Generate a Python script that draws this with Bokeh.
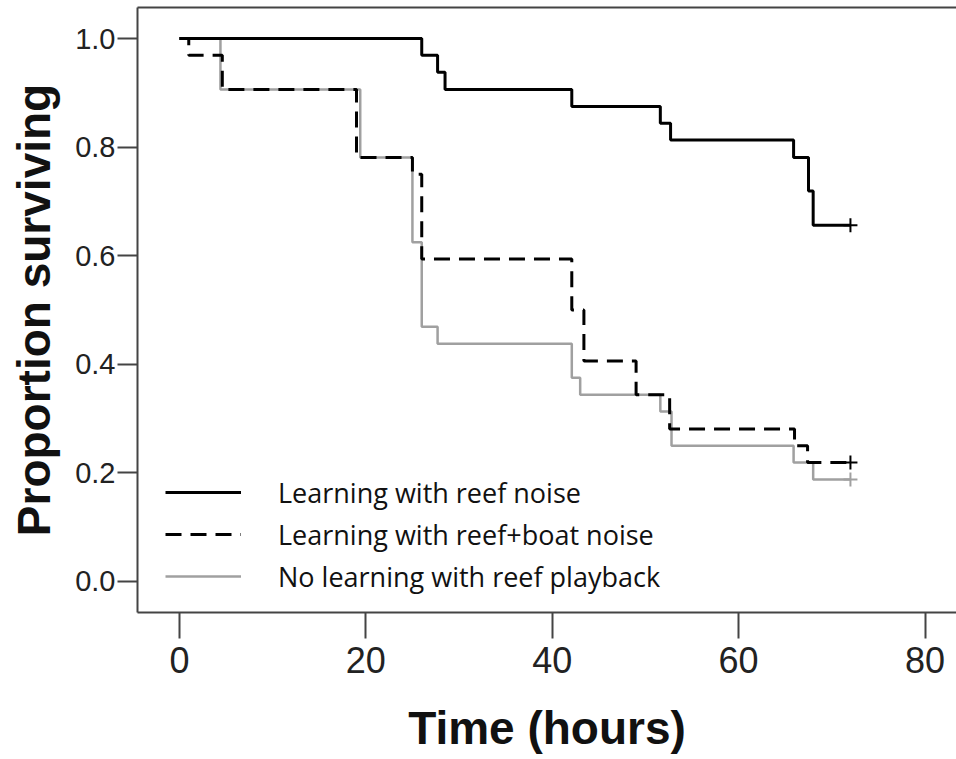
from bokeh.plotting import figure
from bokeh.models import Range1d, FixedTicker, PrintfTickFormatter, Legend, LegendItem, LinearAxis
from bokeh.embed import file_html
from bokeh.resources import INLINE

# ---- data (Kaplan-Meier curves) ----
labels = ["Learning with reef noise", "Learning with reef+boat noise", "No learning with reef playback"]

times_reef = [0, 26.0, 27.7, 28.5, 42.1, 51.6, 52.7, 65.9, 67.5, 68.0, 72]
surv_reef = [1.0, 0.969, 0.938, 0.906, 0.875, 0.844, 0.813, 0.781, 0.719, 0.656, 0.656]

times_boat = [0, 1.0, 4.6, 19.0, 25.0, 26.0, 42.1, 43.4, 49.0, 52.6, 66.0, 67.4, 72]
surv_boat = [1.0, 0.969, 0.906, 0.781, 0.750, 0.594, 0.500, 0.406, 0.344, 0.281, 0.250, 0.219, 0.219]

times_none = [0, 4.4, 19.4, 25.0, 26.0, 27.7, 42.1, 43.0, 51.6, 52.8, 65.9, 68.0, 72]
surv_none = [1.0, 0.906, 0.781, 0.625, 0.469, 0.438, 0.375, 0.344, 0.313, 0.250, 0.219, 0.188, 0.188]

x_ticks = [0, 20, 40, 60, 80]
y_ticks = [0.0, 0.2, 0.4, 0.6, 0.8, 1.0]

# ---- figure ----
FRAME_COLOR = "#444444"
p = figure(width=956, height=759, output_backend="svg", toolbar_location=None,
           x_range=Range1d(-4.5, 83.38), y_range=Range1d(-0.0571, 1.0571),
           min_border_left=137, min_border_right=0, min_border_top=7, min_border_bottom=147,
           x_axis_location=None, y_axis_location=None)
p.outline_line_color = None
p.grid.visible = False
p.background_fill_color = "white"
p.border_fill_color = "white"

# left axis
yaxis = LinearAxis(ticker=FixedTicker(ticks=y_ticks), formatter=PrintfTickFormatter(format="%.1f"),
                   axis_label="Proportion surviving")
yaxis.axis_line_color = FRAME_COLOR
yaxis.axis_line_width = 2
yaxis.major_tick_line_color = FRAME_COLOR
yaxis.major_tick_line_width = 2
yaxis.major_tick_out = 20
yaxis.major_tick_in = 0
yaxis.minor_tick_line_color = None
yaxis.major_label_standoff = 2
yaxis.major_label_text_font = "Liberation Sans"
yaxis.major_label_text_font_size = "29px"
yaxis.major_label_text_color = "#222222"
yaxis.axis_label_text_font = "Liberation Sans"
yaxis.axis_label_text_font_size = "46px"
yaxis.axis_label_text_font_style = "bold"
yaxis.axis_label_text_color = "#111111"
yaxis.axis_label_standoff = 12
p.add_layout(yaxis, "left")

# bottom axis
xaxis = LinearAxis(ticker=FixedTicker(ticks=x_ticks), formatter=PrintfTickFormatter(format="%d"),
                   axis_label="Time (hours)")
xaxis.axis_line_color = FRAME_COLOR
xaxis.axis_line_width = 2
xaxis.major_tick_line_color = FRAME_COLOR
xaxis.major_tick_line_width = 2
xaxis.major_tick_out = 26
xaxis.major_tick_in = 0
xaxis.minor_tick_line_color = None
xaxis.major_label_standoff = 8
xaxis.major_label_text_font = "Liberation Sans"
xaxis.major_label_text_font_size = "36px"
xaxis.major_label_text_color = "#222222"
xaxis.axis_label_text_font = "Liberation Sans"
xaxis.axis_label_text_font_size = "46px"
xaxis.axis_label_text_font_style = "bold"
xaxis.axis_label_text_color = "#111111"
xaxis.axis_label_standoff = 26
p.add_layout(xaxis, "below")

# top frame line
top = LinearAxis(ticker=FixedTicker(ticks=[]))
top.axis_line_color = FRAME_COLOR
top.axis_line_width = 2
top.major_tick_line_color = None
top.minor_tick_line_color = None
top.major_tick_out = 0
top.major_label_standoff = 0
top.major_label_text_font_size = "0px"
p.add_layout(top, "above")

# ---- curves ----
r_none = p.step(times_none, surv_none, mode="after", line_color="#a0a0a0", line_width=2.5)
r_boat = p.step(times_boat, surv_boat, mode="after", line_color="black", line_width=3, line_dash="16 9")
r_reef = p.step(times_reef, surv_reef, mode="after", line_color="black", line_width=3)

# censor marks at end of follow-up
p.scatter([times_none[-1]], [surv_none[-1]], marker="cross", size=14, line_color="#a0a0a0", line_width=2)
p.scatter([times_boat[-1]], [surv_boat[-1]], marker="cross", size=14, line_color="black", line_width=2)
p.scatter([times_reef[-1]], [surv_reef[-1]], marker="cross", size=14, line_color="black", line_width=2)

legend = Legend(items=[LegendItem(label=labels[0], renderers=[r_reef]),
                       LegendItem(label=labels[1], renderers=[r_boat]),
                       LegendItem(label=labels[2], renderers=[r_none])],
                location=(28, 15), orientation="vertical", padding=0, margin=0, spacing=0,
                glyph_width=76, glyph_height=42, label_height=42, label_standoff=37,
                label_text_font="Open Sans", label_text_font_size="27px", label_text_color="#111111",
                border_line_color=None, background_fill_alpha=0)
p.add_layout(legend)

open("out.html", "w").write(file_html(p, INLINE))
